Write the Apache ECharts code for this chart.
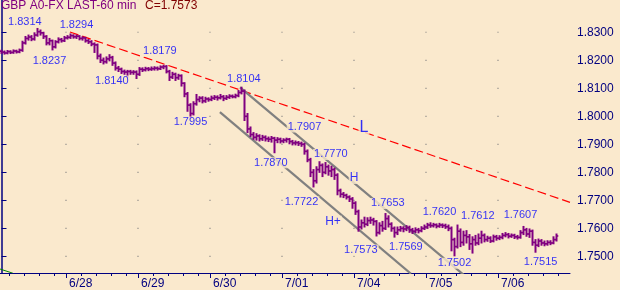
<!DOCTYPE html>
<html><head><meta charset="utf-8">
<script src="https://cdn.jsdelivr.net/npm/echarts@6/dist/echarts.min.js"></script>
<style>html,body{margin:0;padding:0;background:#FAE9CD;}#c{width:620px;height:290px;}</style>
</head><body><div id="c"></div>
<script>
// ---- data ----
const dayLabels = ['6/27','6/28','6/29','6/30','7/01','7/04','7/05','7/06'];
const dayStartBar = [-2,22,46,70,94,118,142,166];   // bar index of 00:00 of each day
const minorHours = [5,10,15,20];
const yTicks = [1.75,1.76,1.77,1.78,1.79,1.80,1.81,1.82,1.83];

const opens = [1.8232,1.8229,1.8226,1.8231,1.8228,1.8233,1.8230,1.8236,1.8262,1.8278,1.8283,1.8276,1.8290,1.8302,1.8298,1.8285,1.8262,1.8270,1.8248,1.8266,1.8274,1.8270,1.8280,1.8282,1.8288,1.8284,1.8286,1.8278,1.8280,1.8270,1.8266,1.8258,1.8255,1.8215,1.8200,1.8195,1.8205,1.8210,1.8190,1.8172,1.8168,1.8160,1.8158,1.8160,1.8157,1.8158,1.8150,1.8168,1.8166,1.8170,1.8168,1.8170,1.8172,1.8170,1.8176,1.8178,1.8160,1.8140,1.8150,1.8138,1.8145,1.8118,1.8080,1.8040,1.8010,1.8045,1.8060,1.8065,1.8055,1.8062,1.8060,1.8065,1.8068,1.8066,1.8070,1.8064,1.8068,1.8072,1.8070,1.8074,1.8085,1.8090,1.8000,1.7955,1.7935,1.7925,1.7930,1.7920,1.7925,1.7920,1.7918,1.7922,1.7915,1.7918,1.7912,1.7915,1.7918,1.7910,1.7905,1.7906,1.7903,1.7900,1.7875,1.7845,1.7800,1.7770,1.7810,1.7825,1.7800,1.7820,1.7805,1.7810,1.7790,1.7735,1.7722,1.7718,1.7712,1.7705,1.7690,1.7660,1.7605,1.7620,1.7615,1.7628,1.7630,1.7625,1.7585,1.7610,1.7600,1.7635,1.7615,1.7600,1.7585,1.7595,1.7600,1.7598,1.7603,1.7595,1.7590,1.7595,1.7592,1.7600,1.7605,1.7612,1.7610,1.7613,1.7608,1.7612,1.7610,1.7606,1.7600,1.7560,1.7535,1.7590,1.7550,1.7575,1.7570,1.7545,1.7560,1.7548,1.7565,1.7575,1.7560,1.7565,1.7555,1.7570,1.7565,1.7568,1.7575,1.7578,1.7572,1.7575,1.7570,1.7568,1.7585,1.7595,1.7580,1.7590,1.7550,1.7540,1.7555,1.7548,1.7545,1.7550,1.7548,1.7560];
const highs = [1.8236,1.8233,1.8235,1.8234,1.8237,1.8236,1.8240,1.8268,1.8285,1.8290,1.8288,1.8298,1.8314,1.8308,1.8300,1.8288,1.8278,1.8272,1.8270,1.8280,1.8278,1.8285,1.8288,1.8294,1.8291,1.8290,1.8288,1.8284,1.8282,1.8274,1.8270,1.8262,1.8258,1.8222,1.8208,1.8212,1.8220,1.8214,1.8194,1.8178,1.8172,1.8165,1.8164,1.8164,1.8163,1.8162,1.8174,1.8173,1.8175,1.8174,1.8176,1.8177,1.8176,1.8180,1.8182,1.8181,1.8164,1.8157,1.8154,1.8150,1.8148,1.8120,1.8085,1.8045,1.8052,1.8078,1.8070,1.8070,1.8068,1.8066,1.8072,1.8074,1.8073,1.8078,1.8074,1.8074,1.8077,1.8076,1.8079,1.8092,1.8104,1.8094,1.8010,1.7962,1.7942,1.7938,1.7934,1.7932,1.7930,1.7926,1.7928,1.7925,1.7924,1.7922,1.7920,1.7922,1.7921,1.7914,1.7912,1.7910,1.7908,1.7904,1.7880,1.7850,1.7810,1.7820,1.7838,1.7830,1.7835,1.7826,1.7822,1.7815,1.7795,1.7740,1.7728,1.7722,1.7716,1.7710,1.7695,1.7665,1.7630,1.7640,1.7638,1.7640,1.7636,1.7628,1.7620,1.7625,1.7653,1.7645,1.7620,1.7605,1.7605,1.7607,1.7606,1.7610,1.7608,1.7600,1.7602,1.7600,1.7606,1.7612,1.7618,1.7620,1.7618,1.7616,1.7618,1.7616,1.7615,1.7612,1.7605,1.7565,1.7612,1.7598,1.7590,1.7592,1.7578,1.7570,1.7575,1.7580,1.7590,1.7580,1.7572,1.7570,1.7576,1.7575,1.7574,1.7582,1.7585,1.7582,1.7580,1.7579,1.7575,1.7592,1.7607,1.7600,1.7598,1.7594,1.7560,1.7562,1.7560,1.7555,1.7556,1.7556,1.7570,1.7580];
const lows = [1.8224,1.8222,1.8223,1.8224,1.8225,1.8226,1.8227,1.8232,1.8258,1.8272,1.8270,1.8272,1.8286,1.8290,1.8278,1.8255,1.8255,1.8237,1.8244,1.8262,1.8265,1.8267,1.8276,1.8278,1.8279,1.8278,1.8273,1.8272,1.8265,1.8260,1.8252,1.8228,1.8205,1.8192,1.8187,1.8190,1.8198,1.8182,1.8165,1.8160,1.8153,1.8150,1.8140,1.8150,1.8150,1.8135,1.8146,1.8160,1.8162,1.8163,1.8164,1.8165,1.8165,1.8167,1.8170,1.8155,1.8128,1.8135,1.8128,1.8132,1.8108,1.8070,1.8018,1.7995,1.8005,1.8040,1.8052,1.8048,1.8050,1.8054,1.8056,1.8060,1.8058,1.8062,1.8056,1.8060,1.8064,1.8066,1.8066,1.8070,1.8080,1.7985,1.7942,1.7928,1.7918,1.7915,1.7912,1.7914,1.7912,1.7910,1.7908,1.7870,1.7906,1.7905,1.7906,1.7908,1.7902,1.7898,1.7898,1.7896,1.7893,1.7865,1.7838,1.7785,1.7748,1.7762,1.7800,1.7785,1.7795,1.7790,1.7785,1.7775,1.7720,1.7712,1.7710,1.7705,1.7696,1.7672,1.7650,1.7590,1.7598,1.7605,1.7610,1.7618,1.7612,1.7573,1.7580,1.7590,1.7596,1.7605,1.7590,1.7569,1.7578,1.7590,1.7588,1.7592,1.7586,1.7582,1.7585,1.7584,1.7588,1.7596,1.7600,1.7604,1.7605,1.7602,1.7604,1.7603,1.7600,1.7592,1.7520,1.7502,1.7530,1.7535,1.7540,1.7548,1.7525,1.7512,1.7540,1.7542,1.7548,1.7552,1.7554,1.7550,1.7552,1.7558,1.7560,1.7563,1.7570,1.7566,1.7568,1.7564,1.7562,1.7565,1.7578,1.7572,1.7568,1.7540,1.7515,1.7535,1.7540,1.7538,1.7540,1.7542,1.7545,1.7555];
const closes = [1.8229,1.8226,1.8231,1.8228,1.8233,1.8230,1.8236,1.8262,1.8278,1.8283,1.8276,1.8290,1.8302,1.8298,1.8285,1.8262,1.8270,1.8248,1.8266,1.8274,1.8270,1.8280,1.8282,1.8288,1.8284,1.8286,1.8278,1.8280,1.8270,1.8266,1.8258,1.8255,1.8215,1.8200,1.8195,1.8205,1.8210,1.8190,1.8172,1.8168,1.8160,1.8158,1.8160,1.8157,1.8158,1.8150,1.8168,1.8166,1.8170,1.8168,1.8170,1.8172,1.8170,1.8176,1.8178,1.8160,1.8140,1.8150,1.8138,1.8145,1.8118,1.8080,1.8040,1.8010,1.8045,1.8060,1.8065,1.8055,1.8062,1.8060,1.8065,1.8068,1.8066,1.8070,1.8064,1.8068,1.8072,1.8070,1.8074,1.8085,1.8090,1.8000,1.7955,1.7935,1.7925,1.7930,1.7920,1.7925,1.7920,1.7918,1.7922,1.7915,1.7918,1.7912,1.7915,1.7918,1.7910,1.7905,1.7906,1.7903,1.7900,1.7875,1.7845,1.7800,1.7770,1.7810,1.7825,1.7800,1.7820,1.7805,1.7810,1.7790,1.7735,1.7722,1.7718,1.7712,1.7705,1.7690,1.7660,1.7605,1.7620,1.7615,1.7628,1.7630,1.7625,1.7585,1.7610,1.7600,1.7635,1.7615,1.7600,1.7585,1.7595,1.7600,1.7598,1.7603,1.7595,1.7590,1.7595,1.7592,1.7600,1.7605,1.7612,1.7610,1.7613,1.7608,1.7612,1.7610,1.7606,1.7600,1.7560,1.7535,1.7590,1.7550,1.7575,1.7570,1.7545,1.7560,1.7548,1.7565,1.7575,1.7560,1.7565,1.7555,1.7570,1.7565,1.7568,1.7575,1.7578,1.7572,1.7575,1.7570,1.7568,1.7585,1.7595,1.7580,1.7590,1.7550,1.7540,1.7555,1.7548,1.7545,1.7550,1.7548,1.7560,1.7573];

// trend lines: [barIndex, price] endpoints
const resistanceLine = [[22.8,1.8301],[189.5,1.7693]];
const channelUpper = [[79.5,1.8103],[154.2,1.7433]];
const channelLower = [[72.8,1.8015],[136.5,1.7438]];
const greenLine = [[-0.5,1.7455],[3.8,1.7440]];

// annotations: text, bar index, price
const annoText = ['1.8314','1.8294','1.8237','1.8140','1.8179','1.7995','1.8104','1.7907','1.7870','1.7722','1.7770','H','1.7653','H+','1.7573','1.7569','1.7620','1.7612','1.7607','1.7502','1.7515','L'];
const annoX = [7.8,25,16,36.8,52.8,63,80.8,101,89.8,100,109.8,117.5,128.8,110.5,119.8,134.8,146,158.8,173,151,179.7,120.8];
const annoY = [1.8335,1.8327,1.8197,1.8126,1.8232,1.7980,1.8134,1.7962,1.7834,1.7695,1.7864,1.7780,1.7689,1.7624,1.7523,1.7532,1.7657,1.7645,1.7647,1.7476,1.7479,1.7961];

// ---- chart ----
const BG = '#FAE9CD', NAVY = '#000080', PURPLE = '#800080';
const FONT = '"Liberation Sans", Arial, sans-serif';
const majorTicks = dayStartBar.map(s => s - 0.5).filter(v => v >= -0.5 && v <= 189.5);
const minorTicks = [];
dayStartBar.forEach(s => minorHours.forEach(h => { const v = s + h - 0.5; if (v > -0.5 && v < 189.5) minorTicks.push(v); }));
const tickToDay = {};
dayStartBar.forEach((s, k) => { tickToDay[s - 0.5] = dayLabels[k]; });

const ohlc = closes.map((c, i) => [i, opens[i], highs[i], lows[i], c]);
const dots = [];
majorTicks.forEach(x => yTicks.forEach(y => dots.push([x, y])));
const anno = annoText.map((t, k) => {
  const big = t === 'L', mid = (t === 'H' || t === 'H+');
  return { name: t, value: [annoX[k], annoY[k]],
    label: big ? { fontSize: 16, lineHeight: 15 } : (mid ? { fontSize: 12, lineHeight: 12 } : {}) };
});

const chart = echarts.init(document.getElementById('c'), null, { renderer: 'canvas' });
const lineSer = (data, color, width, type) => ({
  type: 'line', data, symbol: 'none', clip: true, silent: true, z: 3,
  lineStyle: { color, width, type }, animation: false
});
chart.setOption({
  backgroundColor: BG,
  animation: false,
  title: [
    { text: 'GBP A0-FX LAST-60 min', left: 1, top: 0, padding: 0,
      textStyle: { color: PURPLE, fontSize: 12, fontWeight: 'normal', fontFamily: FONT, lineHeight: 12 } },
    { text: 'C=1.7573', left: 145, top: 0, padding: 0,
      textStyle: { color: '#800000', fontSize: 12, fontWeight: 'normal', fontFamily: FONT, lineHeight: 12 } }
  ],
  grid: { left: 0, right: 50, top: 0, bottom: 15, containLabel: false },
  xAxis: [
    { type: 'value', min: -0.5, max: 189.5, position: 'bottom',
      axisLine: { show: true, onZero: false, lineStyle: { color: NAVY, width: 1 } },
      axisTick: { show: true, length: 5, customValues: majorTicks, lineStyle: { color: NAVY } },
      axisLabel: { show: true, customValues: majorTicks, align: 'left', padding: [0, 0, 0, 3], margin: 5,
        color: NAVY, fontSize: 12, fontFamily: FONT, formatter: v => tickToDay[v] || '' },
      splitLine: { show: false } },
    { type: 'value', min: -0.5, max: 189.5, position: 'bottom',
      axisLine: { show: false, onZero: false },
      axisTick: { show: true, length: 3, customValues: minorTicks, lineStyle: { color: NAVY } },
      axisLabel: { show: false }, splitLine: { show: false } }
  ],
  yAxis: [{
    type: 'value', position: 'right', min: 1.744083, max: 1.841515, scale: true,
    axisLine: { show: true, lineStyle: { color: NAVY, width: 1.5 } },
    axisTick: { show: true, length: 5, customValues: yTicks, lineStyle: { color: NAVY } },
    axisLabel: { show: true, customValues: yTicks, margin: 7, color: NAVY, fontSize: 12, fontFamily: FONT,
      formatter: v => v.toFixed(4) },
    splitLine: { show: false }
  }],
  series: [
    { type: 'scatter', data: dots, symbol: 'rect', symbolSize: 1.2, silent: true, z: 1,
      itemStyle: { color: '#7a7a7a' } },
    lineSer(greenLine, '#008000', 1, 'solid'),
    lineSer(resistanceLine, '#ff0000', 1.2, [9, 4]),
    lineSer(channelUpper, '#808080', 2.2, 'solid'),
    lineSer(channelLower, '#808080', 2.2, 'solid'),
    { type: 'custom', data: ohlc, z: 4, clip: true, silent: true,
      encode: { x: 0, y: [1, 2, 3, 4] },
      renderItem: function (params, api) {
        const i = api.value(0);
        const pO = api.coord([i, api.value(1)]);
        const pH = api.coord([i, api.value(2)]);
        const pL = api.coord([i, api.value(3)]);
        const pC = api.coord([i, api.value(4)]);
        const x = pO[0];
        return { type: 'group', children: [
          { type: 'line', shape: { x1: x, y1: pH[1] - 0.5, x2: x, y2: pL[1] + 0.5 }, style: { stroke: PURPLE, lineWidth: 2 } },
          { type: 'line', shape: { x1: x - 1.8, y1: pO[1], x2: x, y2: pO[1] }, style: { stroke: PURPLE, lineWidth: 1.6 } },
          { type: 'line', shape: { x1: x, y1: pC[1], x2: x + 1.8, y2: pC[1] }, style: { stroke: PURPLE, lineWidth: 1.6 } }
        ] };
      } },
    { type: 'scatter', data: anno, symbolSize: 1, z: 10, silent: true,
      itemStyle: { color: 'rgba(0,0,0,0)' },
      label: { show: true, position: 'inside', formatter: '{b}', color: '#0000ff', fontSize: 11,
        fontFamily: FONT, lineHeight: 11, backgroundColor: BG, padding: [0, 1] } }
  ]
});
</script>
</body></html>
